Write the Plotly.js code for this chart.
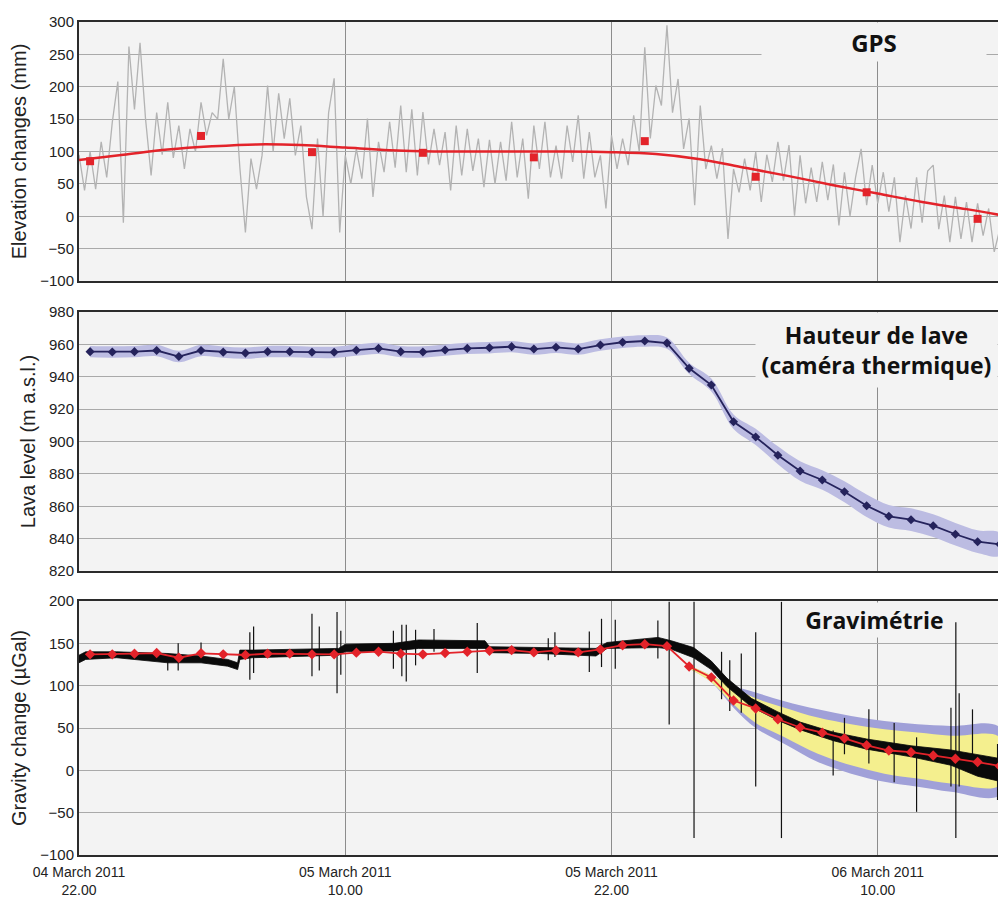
<!DOCTYPE html>
<html>
<head>
<meta charset="utf-8">
<script src="https://cdn.plot.ly/plotly-3.0.1.min.js"></script>
<style>
  html, body { margin: 0; padding: 0; background: #ffffff; }
  #chart { width: 998px; height: 900px; }
</style>
</head>
<body>
<div id="chart"></div>
<script>
// ---------- time axis (hours after 04 March 2011 22:00) ----------
const tickHours = [0, 12, 24, 36];
const tickLabels = ["04 March 2011<br>22.00", "05 March 2011<br>10.00", "05 March 2011<br>22.00", "06 March 2011<br>10.00"];

// ---------- GPS ----------
const gpsRawStart = 0;      // hours
const gpsRawStep = 0.25;    // hours between readings
const gpsRaw = [95, 40, 100, 42, 115, 60, 145, 208, -10, 262, 165, 268, 150, 63, 160, 95, 176, 90, 140, 73,
  135, 100, 176, 125, 160, 150, 243, 150, 200, 75, -25, 89, 42, 94, 202, 100, 190, 120, 182, 94,
  140, 30, -20, 120, 0, 160, 213, -25, 94, 50, 104, 58, 151, 30, 115, 68, 146, 75, 171, 68,
  165, 63, 161, 80, 135, 79, 130, 40, 140, 63, 135, 70, 120, 45, 118, 50, 115, 55, 146, 60,
  120, 27, 140, 73, 146, 60, 109, 58, 140, 84, 156, 58, 130, 60, 94, 12, 125, 73, 120, 79,
  156, 100, 261, 120, 202, 171, 295, 160, 212, 104, 151, 17, 171, 73, 109, 58, 105, -35, 73, 37,
  89, 40, 99, 22, 95, 53, 115, 55, 110, 1, 94, 20, 75, 22, 84, 25, 80, -14, 68, 0,
  60, 104, 17, 79, 20, 68, 7, 60, -40, 32, -19, 60, -10, 70, 79, -20, 32, -40, 30, -35,
  22, -40, 20, -30, 12, -55, -20];
const gpsFitHours = [0, 2, 4, 6, 8, 10, 12, 14, 16, 18, 20, 22, 24, 26, 28, 30, 32, 34, 36, 38, 40, 41.5];
const gpsFit = [87, 95, 103, 108, 111, 110, 106, 102, 100, 100, 100, 100, 99, 96, 88, 75, 62, 48, 35, 22, 11, 2];
const gpsMeanHours = [0.5, 5.5, 10.5, 15.5, 20.5, 25.5, 30.5, 35.5, 40.5];
const gpsMean = [85, 124, 99, 98, 91, 116, 61, 37, -4];

// ---------- Lava level (thermal camera) ----------
const lavaHours = [0.5, 1.5, 2.5, 3.5, 4.5, 5.5, 6.5, 7.5, 8.5, 9.5, 10.5, 11.5, 12.5, 13.5, 14.5, 15.5, 16.5, 17.5, 18.5,
  19.5, 20.5, 21.5, 22.5, 23.5, 24.5, 25.5, 26.5, 27.5, 28.5, 29.5, 30.5, 31.5, 32.5, 33.5, 34.5, 35.5, 36.5, 37.5, 38.5, 39.5, 40.5, 41.5];
const lavaLevel = [955.5, 955.3, 955.5, 956.2, 952.5, 956.2, 955.2, 954.6, 955.5, 955.5, 955.1, 955.1, 956.4, 957.5, 955.5, 955.3, 956.5, 957.5, 957.9,
  958.6, 957.1, 958.2, 957.1, 959.6, 961.3, 962.1, 960.8, 945.2, 934.9, 912.2, 902.8, 891.5, 881.8, 876.2, 869.0, 860.3, 853.8, 851.7, 848.0, 842.7, 838.1, 836.5];
const lavaErr = [3.5, 3.5, 3.5, 3.5, 3.5, 3.5, 3.5, 3.5, 3.5, 3.5, 3.5, 3.5, 3.5, 3.5, 3.5, 3.5, 3.5, 3.5, 3.5,
  3.5, 3.5, 3.5, 3.5, 3.5, 3.5, 3.5, 3.5, 3.5, 4, 4.5, 5, 5.5, 6, 6, 6.5, 7, 7, 7, 7, 7, 7, 7];

// ---------- Gravimetry ----------
const gravModel = [137, 137, 137.8, 138.5, 133, 138.2, 137, 136.2, 137.8, 137.8, 137, 137, 139, 140.1, 137.8, 137, 138.5, 140.1, 141.3,
  142, 139.3, 141.6, 139.3, 142.8, 147.8, 149, 146.7, 122.6, 109.8, 82.5, 73.1, 60.3, 50.6, 44.4, 37.8, 29.6, 23.4, 21.4, 17.6, 13.6, 9.8, 5.1];
const gravRawHours = [0, 0.3, 1.7, 4.0, 5.5, 6.7, 7.15, 7.25, 7.8, 10.3, 11.7, 12.0, 14.2, 15.3, 18.3, 18.5, 20.8, 23.3, 23.8, 26.1, 26.7, 27.7,
  28.5, 29.2, 30.3, 31.5, 32.5, 34.0, 35.5, 37.5, 39.3, 40.5, 41.5];
const gravRawHigh = [136, 140, 140, 138, 135, 131, 127, 142, 142, 143, 144, 149, 150, 154, 153, 146, 145, 144, 151, 157, 153, 145,
  129, 109, 85, 69, 57, 45, 37, 29, 24, 19, 14];
const gravRawLow = [127, 131, 133, 127, 127, 123, 119, 131, 133, 135, 136, 140, 141, 144, 144, 139, 138, 135, 144, 145, 143, 133,
  119, 99, 75, 59, 48, 35, 25, 16, 6, -7, -13];
const spikeHours = [4.0, 4.47, 5.5, 7.7, 7.87, 10.5, 10.83, 11.63, 11.8, 14.17, 14.55, 14.75, 15.17, 16.0, 17.95, 21.15, 21.45, 23.0, 23.55, 24.17,
  26.09, 26.6, 27.72, 28.96, 29.33, 29.85, 30.5, 31.66, 33.99, 34.5, 35.6, 36.74, 37.75, 39.3, 39.52, 39.67, 40.27, 41.4];
const spikeTop = [138, 150, 151, 163, 170, 185, 170, 187, 165, 165, 172, 172, 166, 167, 174, 156, 163, 164, 179, 178,
  177, 199, 199, 140, 130, 138, 163, 199, 47, 62, 72, 56, 39, 74, 175, 91, 72, 31];
const spikeBottom = [118, 118, 132, 107, 115, 111, 118, 91, 113, 120, 111, 105, 124, 140, 115, 130, 134, 116, 122, 120,
  132, 54, -80, 84, 70, 68, -19, -80, -6, 19, 8, -14, -49, -19, -80, -19, 8, -35];
const bandHours = [27.5, 28.5, 29.5, 30.5, 31.8, 33.3, 34.8, 36.3, 37.8, 39.3, 41.5];
const blueHigh = [124, 112, 100, 92, 81.7, 72, 64.2, 58.4, 54.5, 52.5, 50.6];
const yellowHigh = [124, 112, 98, 85, 74, 62.3, 54.5, 48.6, 44.8, 40.9, 39];
const yellowLow = [120, 104, 78, 56, 39, 19.5, 5.9, -3.9, -9.7, -15.5, -17.5];
const blueLow = [120, 104, 74, 50, 31, 9.7, -3.9, -13.6, -19.4, -25.3, -29.2];

// ---------- build traces ----------
const gpsHours = gpsRaw.map((_, i) => gpsRawStart + i * gpsRawStep);
function polygon(xs, hi, lo) {
  return { x: xs.concat(xs.slice().reverse()), y: hi.concat(lo.slice().reverse()) };
}
const lavaPoly = polygon(lavaHours, lavaLevel.map((v, i) => v + lavaErr[i]), lavaLevel.map((v, i) => v - lavaErr[i]));
const bluePoly = polygon(bandHours, blueHigh, blueLow);
const yellowPoly = polygon(bandHours, yellowHigh, yellowLow);
const rawPoly = polygon(gravRawHours, gravRawHigh, gravRawLow);
const spikeX = [], spikeY = [];
spikeHours.forEach((h, i) => { spikeX.push(h, h, null); spikeY.push(spikeTop[i], spikeBottom[i], null); });

const RED = '#e3232a';
const traces = [
  { x: gpsHours, y: gpsRaw, xaxis: 'x', yaxis: 'y', mode: 'lines', line: { color: '#b3b3b3', width: 1.3 }, hoverinfo: 'skip' },
  { x: gpsFitHours, y: gpsFit, xaxis: 'x', yaxis: 'y', mode: 'lines', line: { color: RED, width: 2.5, shape: 'spline' } },
  { x: gpsMeanHours, y: gpsMean, xaxis: 'x', yaxis: 'y', mode: 'markers', marker: { symbol: 'square', size: 8, color: RED } },

  { x: lavaPoly.x, y: lavaPoly.y, xaxis: 'x2', yaxis: 'y2', mode: 'lines', fill: 'toself', fillcolor: '#bcbce2', line: { width: 0, shape: 'spline' } },
  { x: lavaHours, y: lavaLevel, xaxis: 'x2', yaxis: 'y2', mode: 'lines+markers', line: { color: '#25235c', width: 1.8 }, marker: { symbol: 'diamond', size: 7, color: '#25235c' } },

  { x: bluePoly.x, y: bluePoly.y, xaxis: 'x3', yaxis: 'y3', mode: 'lines', fill: 'toself', fillcolor: '#a0a0d8', line: { width: 0, shape: 'spline' } },
  { x: yellowPoly.x, y: yellowPoly.y, xaxis: 'x3', yaxis: 'y3', mode: 'lines', fill: 'toself', fillcolor: '#f4ef8e', line: { width: 0, shape: 'spline' } },
  { x: spikeX, y: spikeY, xaxis: 'x3', yaxis: 'y3', mode: 'lines', line: { color: '#111111', width: 1.2 }, connectgaps: false },
  { x: rawPoly.x, y: rawPoly.y, xaxis: 'x3', yaxis: 'y3', mode: 'lines', fill: 'toself', fillcolor: '#0a0a0a', line: { color: '#0a0a0a', width: 0.8 } },
  { x: lavaHours, y: gravModel, xaxis: 'x3', yaxis: 'y3', mode: 'lines+markers', line: { color: RED, width: 1.8 }, marker: { symbol: 'diamond', size: 8, color: RED } }
];

// ---------- layout ----------
const FONT = 'Liberation Sans, Arial, sans-serif';
const xBase = {
  range: [0, 41.42], tickmode: 'array', tickvals: tickHours, ticktext: tickLabels,
  showgrid: true, gridcolor: '#8c8c8c', gridwidth: 1, zeroline: false,
  showline: true, mirror: true, linecolor: '#2b2b2b', linewidth: 2, ticks: '',
  tickfont: { family: FONT, size: 14, color: '#222' }
};
function yBase(range, dtick, domain, title) {
  return {
    range: range, dtick: dtick, tick0: range[0], domain: domain,
    showgrid: true, gridcolor: '#a9a9a9', gridwidth: 1, zeroline: false,
    showline: true, mirror: false, linecolor: '#2b2b2b', linewidth: 2, ticks: '',
    tickfont: { family: FONT, size: 15, color: '#222' },
    title: { text: title, font: { family: FONT, size: 20, color: '#222' }, standoff: 8 },
    automargin: false
  };
}
const PW = 919, PB = 855, PH = PB - 22;
const px = v => (v - 79) / PW;
const py = v => (PB - v) / PH;
const TFONT = { family: 'Open Sans, Lato, sans-serif', size: 23, color: '#111', weight: 'bold' };

const layout = {
  width: 998, height: 900,
  margin: { l: 79, r: 0, t: 22, b: 900 - PB, pad: 0 },
  paper_bgcolor: '#ffffff', plot_bgcolor: '#f3f3f3',
  showlegend: false,
  xaxis: Object.assign({}, xBase, { anchor: 'y', showticklabels: false, matches: 'x3' }),
  xaxis2: Object.assign({}, xBase, { anchor: 'y2', showticklabels: false, matches: 'x3' }),
  xaxis3: Object.assign({}, xBase, { anchor: 'y3', showticklabels: true, ticklabelstandoff: 3 }),
  yaxis: yBase([-100, 300], 50, [py(281), 1], 'Elevation changes (mm)'),
  yaxis2: yBase([820, 980], 20, [py(571), py(312)], 'Lava level (m a.s.l.)'),
  yaxis3: yBase([-100, 200], 50, [0, py(601)], 'Gravity change (µGal)'),
  annotations: [
    { xref: 'paper', yref: 'paper', x: px(874), y: py(42), xanchor: 'center', yanchor: 'middle', showarrow: false,
      text: '<b>GPS</b>', font: Object.assign({}, TFONT, { size: 24 }), bgcolor: '#f3f3f3', width: 222, height: 36 },
    { xref: 'paper', yref: 'paper', x: px(876), y: py(350), xanchor: 'center', yanchor: 'middle', showarrow: false,
      text: '<b>Hauteur de lave<br>(caméra thermique)</b>', font: TFONT, bgcolor: '#f3f3f3', width: 239, height: 72 },
    { xref: 'paper', yref: 'paper', x: px(874), y: py(620), xanchor: 'center', yanchor: 'middle', showarrow: false,
      text: '<b>Gravimétrie</b>', font: TFONT, bgcolor: '#f3f3f3', width: 145, height: 32 }
  ]
};

Plotly.newPlot('chart', traces, layout, { staticPlot: true, displayModeBar: false });
</script>
</body>
</html>
